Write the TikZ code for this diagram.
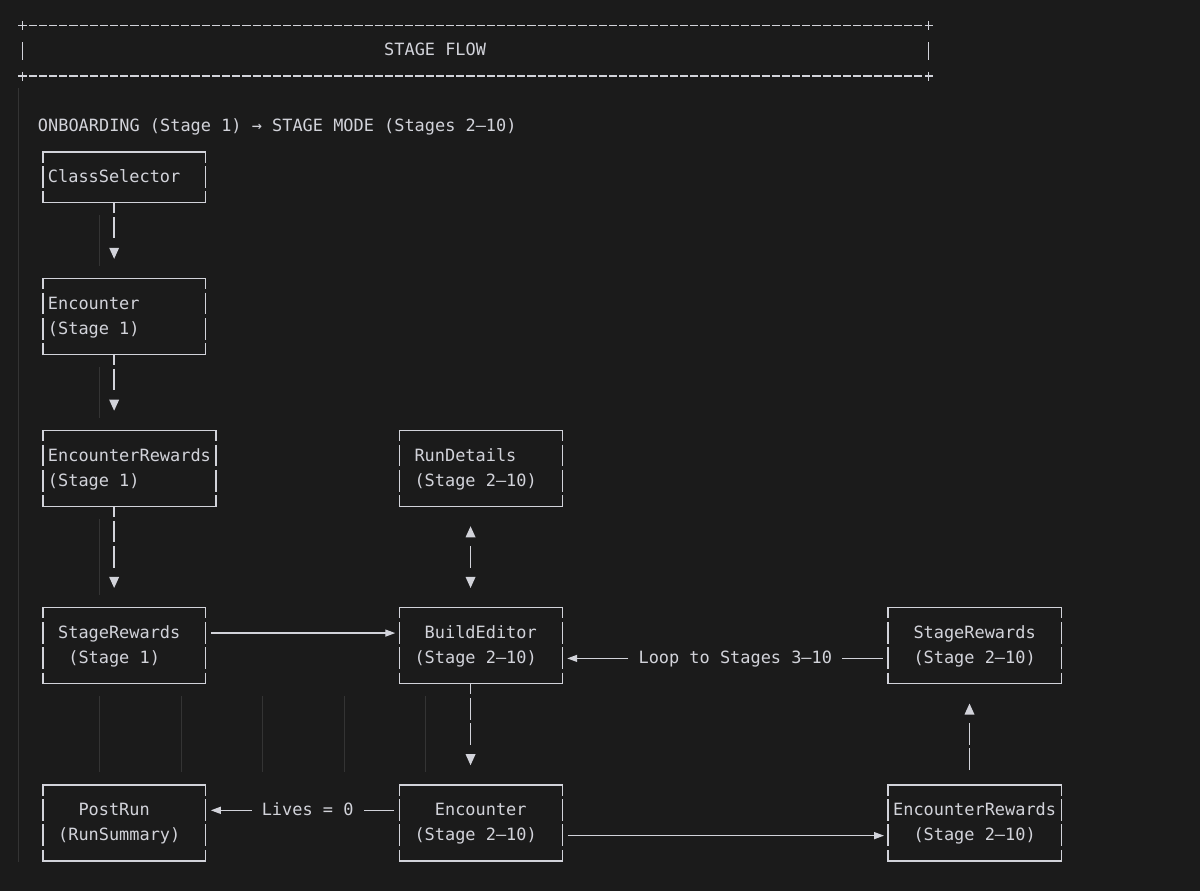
\documentclass[tikz,border=0pt]{standalone}
\usepackage{fontspec}
\newfontfamily\dvsm{DejaVu Sans Mono}
\usetikzlibrary{calc,arrows.meta}
\definecolor{bg}{RGB}{27,27,27}
\definecolor{fg}{RGB}{210,211,218}
\definecolor{guide}{RGB}{52,52,52}
\newlength\cw \setlength\cw{10.183pt}
\newcommand\ls{\rule[-4.6pt]{0pt}{19.6pt}}
\newcommand\asp[1]{\hspace*{#1\cw}}
\setlength{\parindent}{0pt}
\begin{document}
\begin{tikzpicture}[x=1pt,y=-1pt,
  txt/.style={font=\dvsm\fontsize{16.914pt}{25.32pt}\selectfont, text=fg},
  abox/.style={txt, rectangle, draw=none, outer sep=0pt, inner xsep=5.0915pt, inner ysep=0pt, align=left},
  w16/.style={text width=152.75pt},
  w17/.style={text width=162.93pt},
  h1/.style={minimum height=50.64pt},
  h2/.style={minimum height=75.96pt},
  bline/.style={draw=fg, line width=1.35pt, line cap=rect},
  vside/.style={draw=fg, line width=1.35pt, dash pattern=on 21.7pt off 3.62pt, dash phase=11.2pt},
  vbar/.style={draw=fg, line width=1.35pt, dash pattern=on 21.7pt off 3.62pt},
  tri/.style={fill=fg},
  hconn/.style={draw=fg, line width=1.35pt, -{Triangle[width=7pt,length=10pt]}},
  lbl/.style={txt, inner xsep=10.183pt, inner ysep=0pt, text height=15pt, text depth=4.6pt, anchor=base west, outer sep=0pt},
  plain/.style={txt, inner sep=0pt, anchor=base west},
  guideline/.style={draw=guide, line width=1pt},
  banner/.style={draw=fg, line width=1.35pt},
]
\useasboundingbox (0,0) rectangle (1200,891);
\fill[bg] (0,0) rectangle (1200,891);

% indent guides
\draw[guideline] (18.4,88.0) -- (18.4,862);
\foreach \ya/\yb in {215.3/265.94, 367.2/417.9, 519.1/595.1}{
  \draw[guideline] (99.9,\ya) -- (99.9,\yb);
}
\foreach \x in {99.9,181.3,262.8,344.3,425.7}{
  \draw[guideline] (\x,696.4) -- (\x,772.3);
}

% banner
\draw[banner, dash pattern=on 8.18pt off 2pt] (28.6,25.4) -- (922.8,25.4);
\draw[banner, dash pattern=on 8.18pt off 2pt] (28.6,76.04) -- (922.8,76.04);
\foreach \bx in {22.5,928.8}{
  \draw[banner] (\bx-4.3,25.4) -- (\bx+4.3,25.4) (\bx,20.9) -- (\bx,29.9);
  \draw[banner] (\bx-4.3,76.04) -- (\bx+4.3,76.04) (\bx,71.54) -- (\bx,80.54);
  \draw[banner] (\bx,42.3) -- (\bx,60);
}
\node[plain] (title) at (384.0,55.92) {STAGE FLOW};
\node[plain] (head) at (37.78,131.88) {ONBOARDING (Stage 1) → STAGE MODE (Stages 2–10)};

% boxes
\node[abox,w16,h1] (cs) at (124.33,177.32) {\ls ClassSelector};
\node[abox,w16,h2] (enc1) at (124.33,316.58) {\ls Encounter\\\ls (Stage\asp{1}1)};
\node[abox,w17,h2] (er1) at (129.43,468.5) {\ls EncounterRewards\\\ls (Stage\asp{1}1)};
\node[abox,w16,h2] (rd) at (480.74,468.5) {\ls\asp{1}RunDetails\\\ls\asp{1}(Stage\asp{1}2–10)};
\node[abox,w16,h2] (sr1) at (124.33,645.74) {\ls\asp{1}StageRewards\\\ls\asp{2}(Stage\asp{1}1)};
\node[abox,w16,h2] (be) at (480.74,645.74) {\ls\asp{2}BuildEditor\\\ls\asp{1}(Stage\asp{1}2–10)};
\node[abox,w17,h2] (sr2) at (974.61,645.74) {\ls\asp{2}StageRewards\\\ls\asp{2}(Stage\asp{1}2–10)};
\node[abox,w16,h2] (pr) at (124.33,822.98) {\ls\asp{3}PostRun\\\ls\asp{1}(RunSummary)};
\node[abox,w16,h2] (enc2) at (480.74,822.98) {\ls\asp{3}Encounter\\\ls\asp{1}(Stage\asp{1}2–10)};
\node[abox,w17,h2] (er2) at (974.61,822.98) {\ls EncounterRewards\\\ls\asp{2}(Stage\asp{1}2–10)};

\foreach \n in {cs,enc1,er1,rd,sr1,be,sr2,pr,enc2,er2}{
  \draw[bline] (\n.north west) -- (\n.north east);
  \draw[bline] (\n.south west) -- (\n.south east);
  \draw[vside] (\n.north west) -- (\n.south west);
  \draw[vside] (\n.north east) -- (\n.south east);
}

% connector columns
\coordinate (xL) at (114.15,0);
\coordinate (xM) at (470.55,0);
\coordinate (xR) at (969.5,0);

% vertical connectors
\draw[vside] (cs.south -| xL) -- ($(enc1.north -| xL)+(0,-40.14)$);
\fill[tri] ($(enc1.north -| xL)+(-5,-30.82)$) -- ++(10,0) -- ++(-5,11) -- cycle;
\draw[vside] (enc1.south -| xL) -- ($(er1.north -| xL)+(0,-40.14)$);
\fill[tri] ($(er1.north -| xL)+(-5,-30.82)$) -- ++(10,0) -- ++(-5,11) -- cycle;
\draw[vside] (er1.south -| xL) -- ($(sr1.north -| xL)+(0,-40.14)$);
\fill[tri] ($(sr1.north -| xL)+(-5,-30.82)$) -- ++(10,0) -- ++(-5,11) -- cycle;

\fill[tri] ($(rd.south -| xM)+(-5,30.82)$) -- ++(10,0) -- ++(-5,-11) -- cycle;
\draw[vbar] ($(rd.south -| xM)+(0,39.44)$) -- ($(be.north -| xM)+(0,-40.14)$);
\fill[tri] ($(be.north -| xM)+(-5,-30.82)$) -- ++(10,0) -- ++(-5,11) -- cycle;

\draw[vside] (be.south -| xM) -- ($(enc2.north -| xM)+(0,-40.14)$);
\fill[tri] ($(enc2.north -| xM)+(-5,-30.82)$) -- ++(10,0) -- ++(-5,11) -- cycle;

\draw[vbar] ($(er2.north -| xR)+(0,-14.82)$) -- ($(sr2.south -| xR)+(0,39.44)$);
\fill[tri] ($(sr2.south -| xR)+(-5,30.82)$) -- ++(10,0) -- ++(-5,-11) -- cycle;

% horizontal connectors
\draw[hconn] ($(sr1.east)+(5.5,-12.66)$) -- ($(be.west)+(-4,-12.66)$);

\node[lbl] (loop) at (628.39,663.6) {Loop to Stages 3–10};
\draw[hconn] ($(sr2.west |- loop.east)+(-5.1,0)$) -- (loop.east) (loop.west) -- ($(be.east |- loop.west)+(5,0)$);

\node[lbl] (lives) at (251.62,815.52) {Lives = 0};
\draw[hconn] ($(enc2.west |- lives.east)+(-5.1,0)$) -- (lives.east) (lives.west) -- ($(pr.east |- lives.west)+(5,0)$);

\draw[hconn] ($(enc2.east)+(5.5,12.66)$) -- ($(er2.west)+(-4,12.66)$);
\end{tikzpicture}
\end{document}
